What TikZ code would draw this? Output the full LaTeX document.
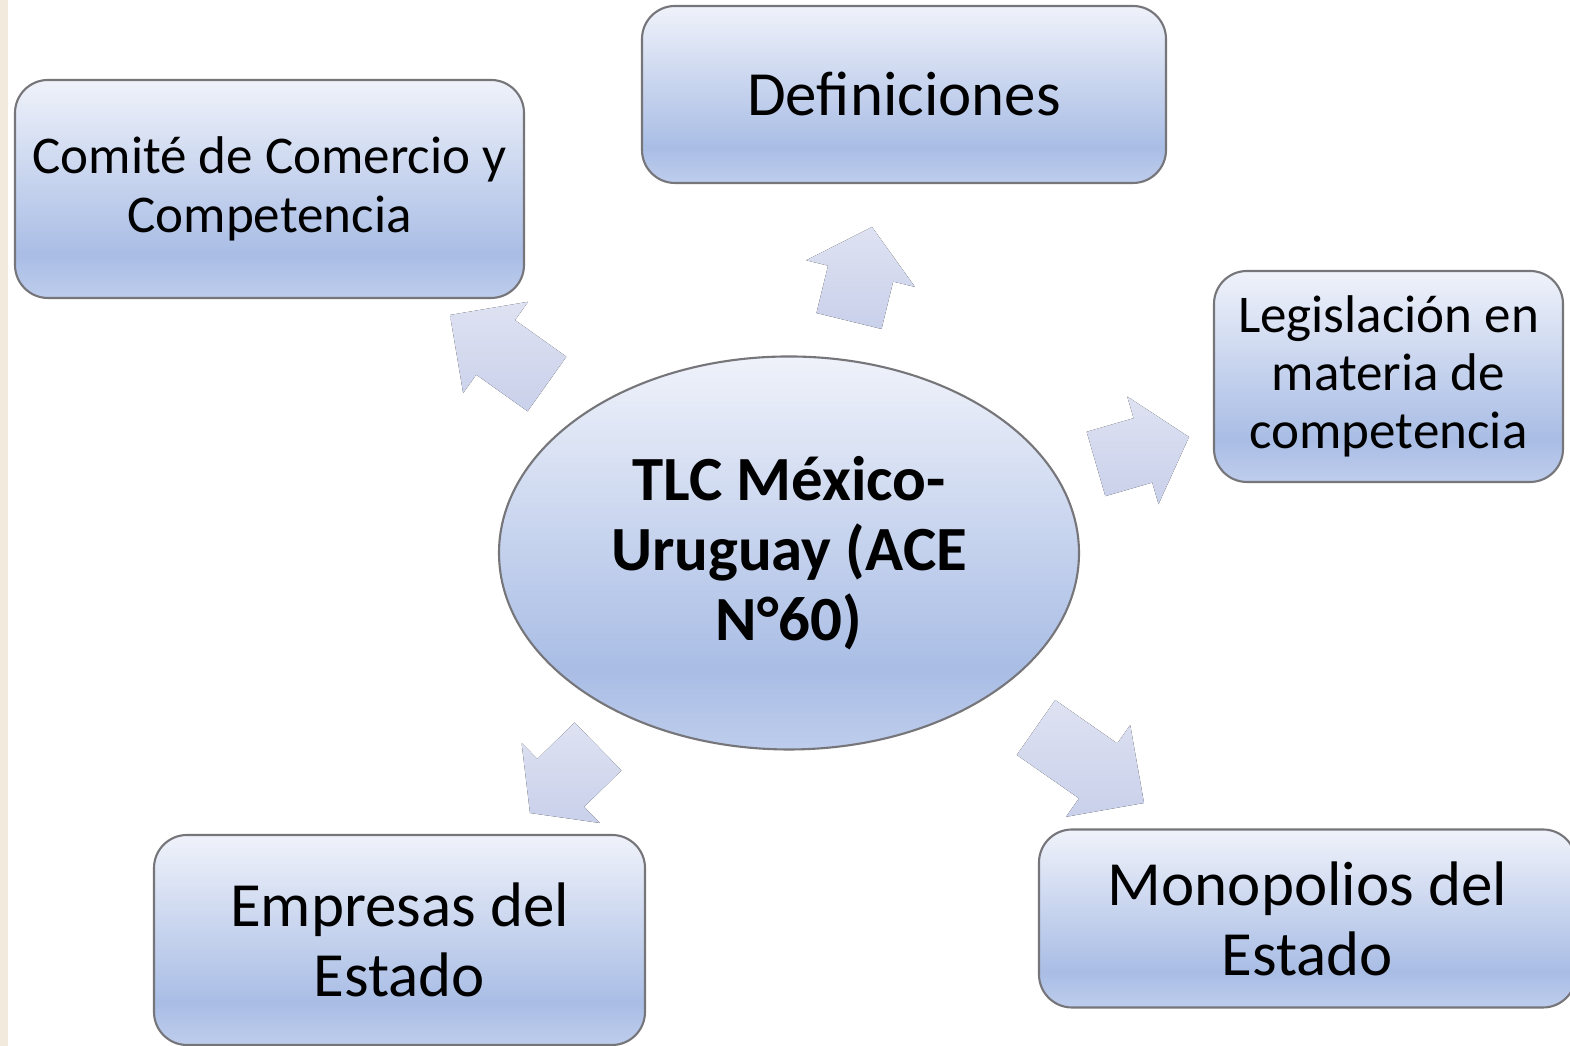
\documentclass[tikz,border=0pt]{standalone}
\usepackage{fontspec}
\setmainfont{Carlito}
\usetikzlibrary{shapes.geometric,calc}
\definecolor{cajaarriba}{RGB}{239,242,250}
\definecolor{cajamedio}{RGB}{169,189,229}
\definecolor{cajaabajo}{RGB}{190,205,236}
\definecolor{borde}{RGB}{118,118,122}
\definecolor{flechaarriba}{RGB}{222,226,242}
\definecolor{flechaabajo}{RGB}{201,208,234}
\definecolor{franja}{RGB}{242,234,221}
\pgfdeclareverticalshading{cajagrad}{100bp}{color(0bp)=(cajaabajo); color(25bp)=(cajaabajo); color(35bp)=(cajamedio); color(75bp)=(cajaarriba); color(100bp)=(cajaarriba)}

\begin{document}
\begin{tikzpicture}
% estilos de cajas y flechas
\tikzstyle{caja} = [rectangle,rounded corners=0.33cm,draw=borde,line width=0.6pt,shade,shading=cajagrad,align=center,inner sep=0pt,font=\fontsize{15.1pt}{16.6pt}\selectfont];
\tikzstyle{cajag} = [caja,font=\fontsize{17.9pt}{19.9pt}\selectfont];
\tikzstyle{elipse} = [ellipse,draw=borde,line width=0.6pt,shade,shading=cajagrad,align=center,inner sep=0pt,font=\fontsize{17.9pt}{19.9pt}\selectfont\bfseries];
\tikzstyle{flecha} = [top color=flechaarriba,bottom color=flechaabajo];
% marco y franja izquierda
\useasboundingbox (0,0) rectangle (15.70,10.46);
\fill[white] (0,0) rectangle (15.70,10.46);
\fill[franja] (0,0) rectangle (0.08,10.46);
% definicion flecha de bloque
% #1: punto medio de la base
% #2: punta de la flecha
% #3: largo de la cabeza
\def \ancho{0.335cm}
\def \cabeza{0.56cm}
\newcommand{\flecha}[3]{
\coordinate (B) at #1;
\coordinate (T) at #2;
\coordinate (H) at ($(T)!#3!(B)$);
\fill[flecha] ($(B)!\ancho!90:(T)$) -- ($(H)!\ancho!90:(T)$) -- ($(H)!\cabeza!90:(T)$) -- (T)
-- ($(H)!\cabeza!-90:(T)$) -- ($(H)!\ancho!-90:(T)$) -- ($(B)!\ancho!-90:(T)$) -- cycle;
 }
% dibujar flechas
\flecha{(8.49,7.25)}{(8.72,8.19)}{0.48cm}
\flecha{(5.47,6.62)}{(4.50,7.31)}{0.56cm}
\flecha{(10.96,5.82)}{(11.89,6.09)}{0.48cm}
\flecha{(10.36,3.185)}{(11.44,2.43)}{0.56cm}
\flecha{(5.98,2.995)}{(5.30,2.33)}{0.43cm}
% dibujar elipse central
\node[elipse,minimum width=5.80cm,minimum height=3.93cm] (tlc) at (7.89,4.93) {TLC México-\\Uruguay (ACE\\N°60)};
% dibujar cajas
\node[caja,minimum width=5.09cm,minimum height=2.18cm] (comite) at (2.695,8.57) {Comité de Comercio y\\Competencia};
\node[cajag,minimum width=5.24cm,minimum height=1.77cm] (defin) at (9.04,9.515) {Definiciones};
\node[caja,minimum width=3.49cm,minimum height=2.11cm] (legis) at (13.885,6.695) {Legislación en\\materia de\\competencia};
\node[cajag,minimum width=4.91cm,minimum height=2.10cm] (empresas) at (3.995,1.06) {Empresas del\\Estado};
\node[cajag,minimum width=5.37cm,minimum height=1.78cm] (monop) at (13.075,1.275) {Monopolios del\\Estado};
\end{tikzpicture}
\end{document}
